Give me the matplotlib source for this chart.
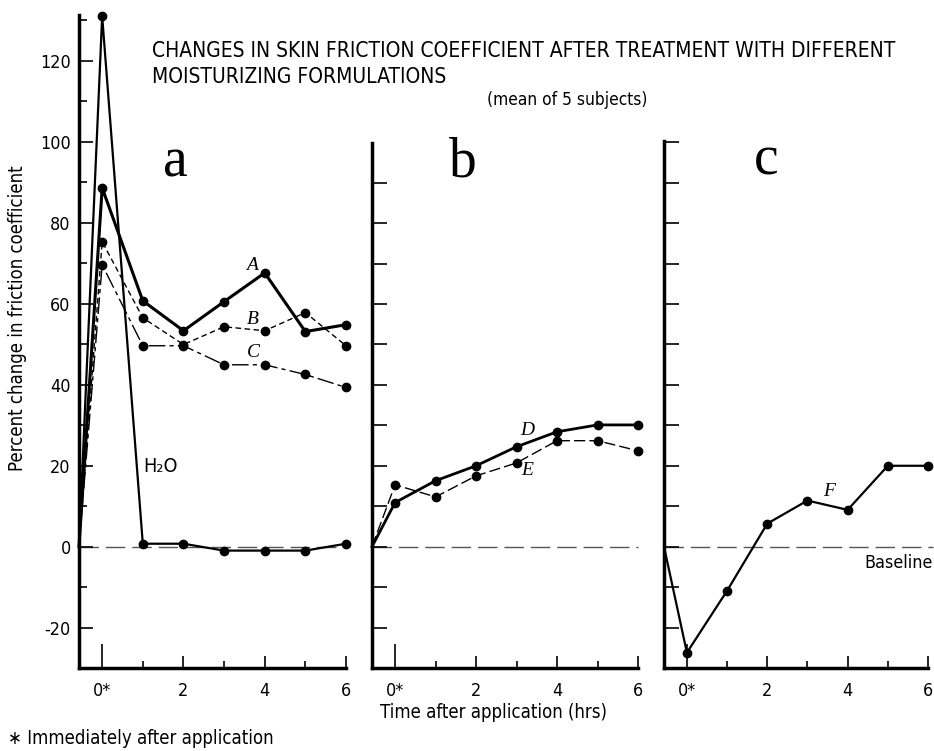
import matplotlib
matplotlib.use('Agg')
import matplotlib.pyplot as plt
from matplotlib import font_manager as fm
from matplotlib.ticker import FixedLocator, NullFormatter

# ---------------- data ----------------
times = [0, 1, 2, 3, 4, 5, 6]
a_A = [88.6, 60.7, 53.3, 60.5, 67.6, 53.1, 54.8]
a_B = [75.3, 56.5, 49.9, 54.3, 53.3, 57.8, 49.6]
a_C = [69.6, 49.6, 49.6, 44.9, 44.9, 42.5, 39.3]
a_H2O = [131.0, 0.7, 0.7, -1.0, -1.0, -1.0, 0.7]
b_D = [10.9, 16.3, 20.0, 24.7, 28.4, 30.1, 30.1]
b_E = [15.3, 12.3, 17.5, 20.7, 26.2, 26.2, 23.7]
c_F = [-26.2, -10.9, 5.7, 11.4, 9.1, 20.0, 20.0]
baseline_value = 0
x_tick_labels = ['0*', '2', '4', '6']
y_ticks_a = [-20, 0, 20, 40, 60, 80, 100, 120]

# ---------------- fonts ----------------
names = {f.name for f in fm.fontManager.ttflist}
if 'Liberation Sans Narrow' in names:
    SANS, STRETCH, K = 'Liberation Sans Narrow', 'normal', 1.0
elif any(f.name == 'DejaVu Sans' and 'Condensed' in f.fname for f in fm.fontManager.ttflist):
    SANS, STRETCH, K = 'DejaVu Sans', 'condensed', 0.92
else:
    SANS, STRETCH, K = 'DejaVu Sans', 'normal', 0.8
SANSL = [SANS, 'DejaVu Sans']
SERIF = 'Liberation Serif'

plt.rcParams['font.family'] = SANSL
plt.rcParams['font.stretch'] = STRETCH
plt.rcParams['axes.unicode_minus'] = False

W, H = 934, 751
fig = plt.figure(figsize=(W / 100, H / 100), dpi=100)


def px_axes(left, right, top, bottom):
    return fig.add_axes([left / W, 1 - bottom / H, (right - left) / W, (bottom - top) / H])


XMIN = -0.57
ax_a = px_axes(79, 346, 15, 668)
ax_b = px_axes(372, 638, 143, 668)
ax_c = px_axes(664, 928, 141, 668)
ax_a.set_ylim(-30, 131.3)
ax_b.set_ylim(-30, 99.8)
ax_c.set_ylim(-30, 100.3)

for ax in (ax_a, ax_b, ax_c):
    ax.set_xlim(XMIN, 6.0)
    ax.patch.set_alpha(0)
    for s in ('top', 'right'):
        ax.spines[s].set_visible(False)
    for s in ('left', 'bottom'):
        ax.spines[s].set_linewidth(2.5)
        ax.spines[s].set_capstyle('projecting')
    ax.xaxis.set_major_locator(FixedLocator([0, 2, 4, 6]))
    ax.xaxis.set_minor_locator(FixedLocator([1, 3, 5]))
    ax.set_xticklabels(x_tick_labels)
    ax.tick_params(axis='x', which='major', direction='in', length=9, width=1.2,
                   pad=10, labelsize=14 * K)
    ax.tick_params(axis='x', which='minor', direction='in', length=5, width=1.2)
    ax.xaxis.get_major_ticks()[0].tick1line.set_markersize(17)
    # baseline
    ax.plot([XMIN, 6.0 if ax is not ax_c else 6.12], [baseline_value] * 2,
            ls=(0, (14, 5)), lw=1.0, color='#555555', clip_on=False, zorder=1)

# y ticks
ax_a.yaxis.set_major_locator(FixedLocator(y_ticks_a))
ax_a.yaxis.set_minor_locator(FixedLocator([-30, -10, 10, 30, 50, 70, 90, 110, 130]))
ax_a.tick_params(axis='y', which='major', direction='in', length=10, width=1.2,
                 pad=6, labelsize=14 * K)
ax_a.tick_params(axis='y', which='minor', direction='in', length=6, width=1.2)
for ax in (ax_b, ax_c):
    ax.yaxis.set_major_locator(FixedLocator(list(range(-30, 101, 10))))
    ax.yaxis.set_major_formatter(NullFormatter())
    ax.tick_params(axis='y', which='major', direction='in', length=10.5, width=1.2)


def series(ax, vals, lw, ls='-', z=3):
    xs = [XMIN] + times
    ys = [baseline_value] + vals
    ax.plot(xs, ys, color='black', lw=lw, ls=ls, marker='o', ms=6,
            markevery=list(range(1, len(xs))), clip_on=False, zorder=z,
            solid_joinstyle='miter', dash_capstyle='butt')


series(ax_a, a_C, 1.0, (0, (12, 3, 3, 3)))
series(ax_a, a_B, 1.0, (0, (4, 2.5)))
series(ax_a, a_A, 2.2, '-', 4)
series(ax_a, a_H2O, 1.6, '-', 5)
series(ax_b, b_E, 1.0, (0, (8, 3)))
series(ax_b, b_D, 2.0, '-', 4)
series(ax_c, c_F, 1.6, '-', 4)

# series labels
lab = dict(family=SERIF, style='italic', fontsize=14, ha='center', va='center')
ax_a.text(3.69, 69.4, 'A', **lab)
ax_a.text(3.71, 56.0, 'B', **lab)
ax_a.text(3.71, 47.9, 'C', **lab)
ax_a.text(1.0, 19.8, 'H\u2082O', fontsize=15.5 * K, ha='left', va='center')
ax_b.text(3.26, 28.6, 'D', **lab)
ax_b.text(3.26, 18.8, 'E', **lab)
ax_c.text(3.53, 13.6, 'F', **lab)
ax_c.text(6.12, -4.0, 'Baseline', fontsize=14 * K, ha='right', va='center')

# panel letters
pl = dict(family=SERIF, fontsize=40, ha='center', va='baseline')
ax_a.text(1.79, 91.4, 'a', **pl)
ax_b.text(1.68, 91.4, 'b', **pl)
ax_c.text(1.98, 91.9, 'c', **pl)

# titles and labels
fig.text(152 / W, 1 - 51 / H,
         'CHANGES IN SKIN FRICTION COEFFICIENT AFTER TREATMENT WITH DIFFERENT',
         fontsize=16.3 * K, ha='left', va='center')
fig.text(152 / W, 1 - 77 / H, 'MOISTURIZING FORMULATIONS',
         fontsize=16.3 * K, ha='left', va='center')
fig.text(647 / W, 1 - 100 / H, '(mean of 5 subjects)',
         fontsize=13.5 * K, ha='right', va='center')
fig.text(18 / W, 1 - 318 / H, 'Percent change in friction coefficient',
         fontsize=14.5 * K, rotation=90, ha='center', va='center')
fig.text(494 / W, 1 - 713 / H, 'Time after application (hrs)',
         fontsize=14.5 * K, ha='center', va='center')
fig.text(8 / W, 1 - 738 / H, '\u2217 Immediately after application',
         fontsize=14.5 * K, ha='left', va='center')

fig.savefig('out.png', dpi=100)
